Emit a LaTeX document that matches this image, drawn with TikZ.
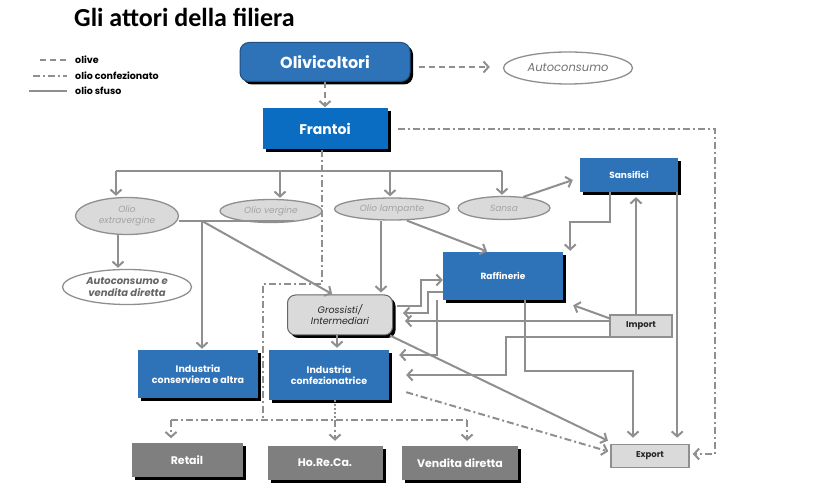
\documentclass[tikz,border=0pt]{standalone}
\usepackage{fontspec}
\setmainfont{Poppins}
\newfontfamily\titlefont{Carlito}
\usetikzlibrary{shapes.geometric,arrows.meta,shadows}
\definecolor{boxblue}{HTML}{2E72B8}
\definecolor{frblue}{HTML}{0B6DC2}
\definecolor{lgray}{HTML}{8F8F8F}
\definecolor{ovfill}{HTML}{DADADA}
\definecolor{ovtext}{HTML}{A3A3A3}
\definecolor{dkbox}{HTML}{7F7F7F}
\tikzset{
  shad/.style={drop shadow={shadow xshift=3pt,shadow yshift=-3pt,fill=black,opacity=1}},
  bluebox/.style={rectangle,fill=boxblue,text=white,font=\bfseries\fontsize{9}{11}\selectfont,align=center,inner sep=1pt,shad},
  ovgray/.style={ellipse,fill=ovfill,draw=lgray,line width=1.3pt,text=ovtext,font=\itshape\fontsize{9}{10.5}\selectfont,align=center,inner sep=0pt},
  ovwhite/.style={ellipse,fill=white,draw=lgray,line width=1.3pt,align=center,inner sep=0pt},
  lgbox/.style={rectangle,fill=ovfill,draw=lgray,line width=1.5pt,text=black!85,font=\bfseries\fontsize{8.5}{10}\selectfont,inner sep=1pt},
  dkboxst/.style={rectangle,fill=dkbox,text=white,font=\bfseries\fontsize{11}{13}\selectfont,inner sep=1pt,shad},
  ln/.style={draw=lgray,line width=2pt},
  arr/.style={ln,-{Straight Barb[length=5pt,width=11pt]}},
  oliveln/.style={ln,dash pattern=on 6pt off 4pt},
  confln/.style={ln,dash pattern=on 7pt off 3pt on 2pt off 3pt},
  dotln/.style={ln,dash pattern=on 2pt off 2pt},
  legtext/.style={anchor=west,font=\bfseries\fontsize{9.5}{11}\selectfont,inner sep=0pt}
}
\begin{document}
\begin{tikzpicture}[x=1pt,y=-1pt]
\useasboundingbox (0,0) rectangle (820,494);
% title
\node[anchor=west,font=\titlefont\bfseries\fontsize{26}{30}\selectfont,inner sep=0pt] (title) at (74,17) {Gli attori della filiera};
% legend
\coordinate (la1) at (40,60); \coordinate (la2) at (67,60);
\coordinate (lb1) at (33,76); \coordinate (lb2) at (67,76);
\coordinate (lc1) at (29,91); \coordinate (lc2) at (67,91);
\draw[oliveln,line width=1.4pt] (la1) -- (la2);
\draw[confln,line width=1.4pt] (lb1) -- (lb2);
\draw[ln,line width=1.4pt] (lc1) -- (lc2);
\node[legtext] (lt1) at (75,60) {olive};
\node[legtext] (lt2) at (75,76) {olio confezionato};
\node[legtext] (lt3) at (75,91) {olio sfuso};
% nodes
\node[rectangle,rounded corners=9pt,fill=boxblue,draw=boxblue!70!black,line width=1pt,text=white,font=\bfseries\fontsize{16}{19}\selectfont,minimum width=170pt,minimum height=39pt,shad] (oliv) at (325,62) {Olivicoltori};
\node[ovwhite,minimum width=129pt,minimum height=32pt,text=black!55,font=\itshape\fontsize{11.5}{13}\selectfont] (auto) at (568,68) {Autoconsumo};
\node[bluebox,fill=frblue,minimum width=125pt,minimum height=41pt,font=\bfseries\fontsize{14}{16}\selectfont] (frantoi) at (325,129) {Frantoi};
\node[ovgray,minimum width=103pt,minimum height=37pt] (exv) at (127,216) {Olio\\extravergine};
\node[ovgray,minimum width=102pt,minimum height=23pt] (verg) at (271,211) {Olio vergine};
\node[ovgray,minimum width=115pt,minimum height=22pt] (lamp) at (392,209) {Olio lampante};
\node[ovgray,minimum width=92pt,minimum height=23pt] (sansa) at (504,208) {Sansa};
\node[ovwhite,minimum width=129pt,minimum height=35pt,text=black!60,font=\bfseries\itshape\fontsize{10}{12}\selectfont] (acvd) at (127,287) {Autoconsumo e\\vendita diretta};
\node[bluebox,minimum width=98pt,minimum height=34pt] (sansif) at (629,175) {Sansifici};
\node[bluebox,minimum width=120pt,minimum height=48pt] (raff) at (503,276) {Raffinerie};
\node[rectangle,rounded corners=8pt,fill=ovfill,draw=black!60,line width=1pt,text=black!85,font=\itshape\fontsize{9.5}{11}\selectfont,align=center,minimum width=105pt,minimum height=40pt,inner sep=1pt,shad] (gross) at (340,315) {Grossisti/\\Intermediari};
\node[lgbox,minimum width=62pt,minimum height=22pt] (imp) at (641,326) {Import};
\node[bluebox,minimum width=120pt,minimum height=48pt,font=\bfseries\fontsize{9.5}{11}\selectfont] (indcons) at (198,374) {Industria\\conserviera e altra};
\node[bluebox,minimum width=120pt,minimum height=50pt,font=\bfseries\fontsize{9.5}{11}\selectfont] (indconf) at (329,375) {Industria\\confezionatrice};
\node[dkboxst,minimum width=111pt,minimum height=33pt] (retail) at (187,460) {Retail};
\node[dkboxst,minimum width=115pt,minimum height=34pt] (horeca) at (325,463) {Ho.Re.Ca.};
\node[dkboxst,minimum width=116pt,minimum height=34pt] (vend) at (460,463) {Vendita diretta};
\node[lgbox,minimum width=78pt,minimum height=23pt] (exp) at (650,456) {Export};
% olive flows
\coordinate (oa) at ([xshift=8pt,yshift=-5pt]oliv.east);
\draw[arr,oliveln,shorten >=13pt] (oa) -- (oa -| auto.west);
\draw[arr,oliveln,shorten >=1pt] (oliv.south) -- (frantoi.north);
% olio confezionato flows
\coordinate (cfr) at (715,0);
\coordinate (ce) at ([yshift=2pt]exp.east);
\draw[arr,confln,shorten >=3pt] ([xshift=10pt]frantoi.east) -- (frantoi.east -| cfr) -- (ce -| cfr) -- (ce);
\coordinate (d1) at (263,284);
\coordinate (d2) at (263,420);
\coordinate (b1) at (171,420);
\coordinate (b2) at (335,420);
\coordinate (b3) at (467,420);
\coordinate (fs) at ([xshift=-3pt]frantoi.south);
\draw[confln] (fs) -- (fs |- d1) -- (d1) -- (d2);
\draw[confln] (b1) -- (b3);
\draw[arr,confln,shorten >=5pt] (b1) -- (retail.north -| b1);
\draw[arr,confln,shorten >=5pt] (b2) -- (horeca.north -| b2);
\draw[arr,confln,shorten >=5pt] (b3) -- (vend.north -| b3);
\draw[dotln] (indconf.south -| b2) -- (b2);
\draw[arr,confln,shorten >=2pt] ([xshift=17pt,yshift=8pt]indconf.south east) -- ([yshift=4pt]exp.west);
% olio sfuso: frantoi distribution
\coordinate (s1) at (116,171);
\coordinate (s2) at (280,171);
\coordinate (s3) at (390,171);
\coordinate (s4) at (502,171);
\draw[ln] (s1) -- (s4);
\draw[arr,shorten >=1pt] (s1) -- (exv.north -| s1);
\draw[arr,shorten >=1pt] (s2) -- (verg.north -| s2);
\draw[arr,shorten >=1pt] (s3) -- (lamp.north -| s3);
\draw[arr,shorten >=1pt] (s4) -- (sansa.north -| s4);
% extravergine / vergine
\coordinate (j1) at (202,221);
\draw[ln] (exv.east |- j1) -- (verg.-25 |- j1);
\draw[arr,shorten >=1pt] ([xshift=-9pt]exv.south) -- ([xshift=-9pt]acvd.north);
\draw[arr,shorten >=1pt] (j1) -- (indcons.north -| j1);
\draw[arr,shorten >=1pt] (j1) -- ([xshift=-7pt]gross.north);
% lampante
\draw[arr,shorten >=2pt] ([xshift=-11pt]lamp.south) -- ([xshift=41pt]gross.north);
\draw[arr,shorten >=1pt] ([xshift=15pt]lamp.south) -- ([xshift=-15pt]raff.north);
% sansa
\draw[arr] (sansa.30) -- ([xshift=-7pt,yshift=-5pt]sansif.west);
\draw[arr,shorten >=1pt] ([xshift=-19pt]sansif.south) -- ++(0,30) -| ([xshift=7pt]raff.north east);
% import
\coordinate (in) at ([xshift=-5pt]imp.north);
\draw[arr,shorten >=5pt] (in) -- (in |- sansif.south);
\draw[arr] ([yshift=-4pt]imp.north west) -- ([xshift=10pt,yshift=-5pt]raff.south east);
\coordinate (ig) at ([yshift=5pt]imp.west);
\draw[arr,shorten >=12pt] (ig) -- (ig -| gross.east);
\coordinate (ic) at ([yshift=1pt]imp.south west);
\draw[arr,shorten >=17pt] (ic) -- ++(-103,0) |- (indconf.east);
% raffinerie / grossisti
\draw[arr] ([xshift=4pt,yshift=9pt]gross.east) -- ++(24,0) |- ([yshift=-4pt]raff.west);
\draw[arr,shorten >=10pt] ([yshift=-16pt]raff.west) -- ++(-15,0) |- ([yshift=2pt]gross.east);
\draw[arr,shorten >=10pt] ([xshift=-66pt]raff.south) |- ([yshift=20pt]indconf.east);
\draw[arr,shorten >=6pt] ([xshift=22pt]raff.south) -- ++(0,71) -| ([xshift=-17pt]exp.north);
\coordinate (se) at ([xshift=-1pt]sansif.south east);
\draw[arr,shorten >=6pt] (se) -- (se |- exp.north);
% grossisti
\coordinate (gs) at ([xshift=-3pt]gross.south);
\draw[arr,shorten >=2pt] (gs) -- (gs |- indconf.north);
\draw[arr,shorten >=7pt] ([xshift=-3pt]gross.south east) -- ([xshift=4pt]exp.north west);
\end{tikzpicture}
\end{document}
